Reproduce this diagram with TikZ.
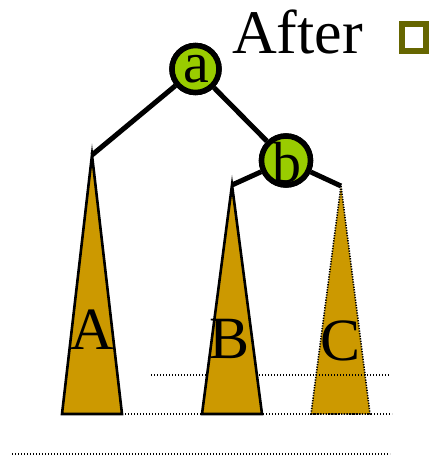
\documentclass[tikz,border=0pt]{standalone}
\usepackage{fontspec}
\setmainfont{Liberation Serif}
\definecolor{nodegreen}{HTML}{99CC00}
\definecolor{treegold}{HTML}{CC9900}
\definecolor{olive}{HTML}{666600}
\begin{document}
\begin{tikzpicture}[x=1pt,y=-1pt,
  vert/.style={circle,draw=black,line width=5.5pt,fill=nodegreen,inner sep=0pt,minimum size=47pt},
  edge/.style={line width=5pt},
  tree/.style={fill=treegold,draw=black,line width=2.6pt,line join=miter},
  ghost/.style={fill=treegold,draw=black,line width=1.6pt,dash pattern=on 1.3pt off 1.3pt},
  level/.style={line width=1.5pt,dash pattern=on 1.4pt off 1.6pt},
  biglabel/.style={font=\fontsize{60}{60}\selectfont,anchor=base,inner sep=0pt}]
\useasboundingbox (0,0) rectangle (436,457);
% apexes
\coordinate (apA) at (92,155);
\coordinate (apB) at (232,185);
\coordinate (apC) at (341,186);
\coordinate (blA) at (62,414); \coordinate (brA) at (122,414);
\coordinate (blB) at (202,414); \coordinate (brB) at (262,414);
\coordinate (blC) at (311,414); \coordinate (brC) at (370,414);
% tree C (ghost)
\path[ghost] (apC) -- (brC) -- (blC) -- cycle;
% level lines
\coordinate (l1s) at (151,375); \coordinate (l1e) at (389,375);
\coordinate (l2e) at (392,414);
\coordinate (l3s) at (12,454); \coordinate (l3e) at (390,454);
\draw[level] (l1s) -- (l1e);
\draw[level] (brA) -- (l2e);
\draw[level] (l3s) -- (l3e);
% trees A, B
\path[tree] (apA) -- (brA) -- (blA) -- cycle;
\path[tree] (apB) -- (brB) -- (blB) -- cycle;
% nodes
\node[vert] (a) at (195.5,69) {};
\node[vert,minimum size=49pt] (b) at (286,160.5) {};
\draw[edge] (apA) -- (a);
\draw[edge] (a) -- (b);
\draw[edge] (b) -- (apB);
\draw[edge] (b) -- (apC);
\node[vert] at (a) {};
\node[vert,minimum size=49pt] at (b) {};
\node[biglabel,font=\fontsize{58}{58}\selectfont] (la) at (196,83) {a};
\node[biglabel,font=\fontsize{58}{58}\selectfont] (lb) at (287,182) {b};
\node[biglabel] (tA) at (92,349) {A};
\node[biglabel] (tB) at (230,358) {B};
\node[biglabel] (tC) at (341,360) {C};
% title
\node[biglabel,font=\fontsize{62}{62}\selectfont,anchor=base west] (title) at (232,54) {After};
\node[draw=olive,line width=6.5pt,minimum width=24pt,minimum height=27pt,inner sep=0pt] (bullet) at (414,37.5) {};
\end{tikzpicture}
\end{document}
